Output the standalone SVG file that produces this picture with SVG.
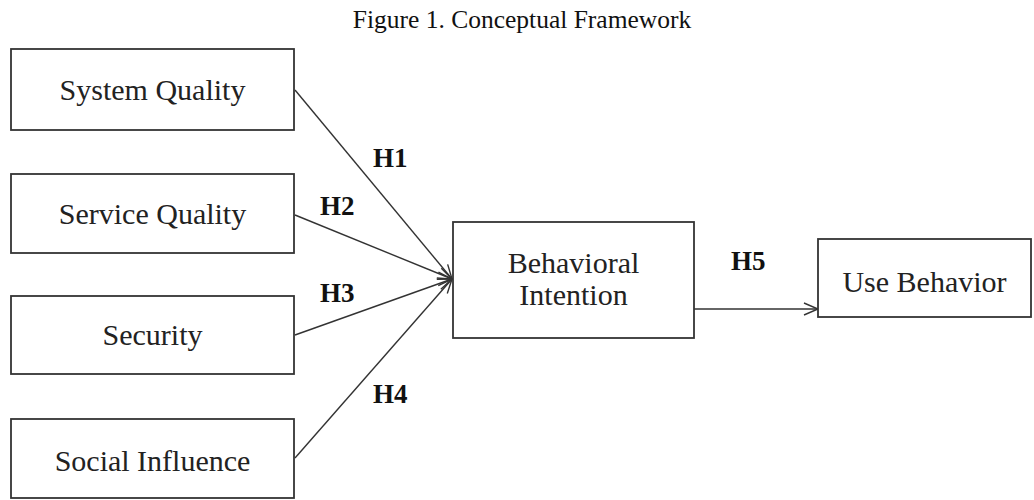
<svg xmlns="http://www.w3.org/2000/svg" width="1034" height="500" viewBox="0 0 1034 500">
<style>
.box{fill:#fff;stroke:#333;stroke-width:1.8}
.t{font-family:"Liberation Serif","Times New Roman",serif;font-size:30px;fill:#222;text-anchor:middle}
.h{font-family:"Liberation Serif","Times New Roman",serif;font-size:27px;font-weight:bold;fill:#111}
.ln{stroke:#333;stroke-width:1.4;fill:none;marker-end:url(#arr)}
</style>
<defs>
<marker id="arr" markerUnits="userSpaceOnUse" markerWidth="18" markerHeight="16" refX="15" refY="7" orient="auto">
<path d="M1,1 L15,7 L1,13" fill="none" stroke="#333" stroke-width="1.4"/>
</marker>
</defs>
<rect width="1034" height="500" fill="#fff"/>
<text x="522" y="28" font-family="'Liberation Serif','Times New Roman',serif" font-size="25.5" text-anchor="middle" fill="#111">Figure 1. Conceptual Framework</text>
<g id="connectors">
<line class="ln" x1="295" y1="90" x2="452" y2="279"/>
<line class="ln" x1="295" y1="215" x2="452" y2="279"/>
<line class="ln" x1="295" y1="335" x2="452" y2="279"/>
<line class="ln" x1="295" y1="458" x2="452" y2="279"/>
<line class="ln" x1="694" y1="309" x2="818" y2="309"/>
<text class="h" x="373" y="167">H1</text>
<text class="h" x="320" y="215">H2</text>
<text class="h" x="320" y="302">H3</text>
<text class="h" x="373" y="403">H4</text>
<text class="h" x="731" y="270">H5</text>
</g>
<g id="system-quality"><rect class="box" x="11" y="49" width="283" height="81"/><text class="t" x="152.5" y="100">System Quality</text></g>
<g id="service-quality"><rect class="box" x="11" y="174" width="283" height="79"/><text class="t" x="152.5" y="224">Service Quality</text></g>
<g id="security"><rect class="box" x="11" y="296" width="283" height="78"/><text class="t" x="152.5" y="345">Security</text></g>
<g id="social-influence"><rect class="box" x="11" y="419" width="283" height="79"/><text class="t" x="152.5" y="471">Social Influence</text></g>
<g id="behavioral-intention"><rect class="box" x="453" y="222" width="241" height="116"/><text class="t" x="573.5" y="273">Behavioral</text><text class="t" x="573.5" y="305">Intention</text></g>
<g id="use-behavior"><rect class="box" x="818" y="239" width="213" height="78"/><text class="t" x="924.5" y="292">Use Behavior</text></g>
</svg>
